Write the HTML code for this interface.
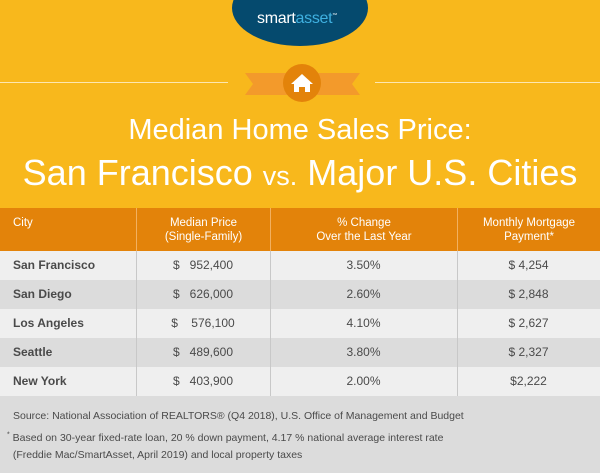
<!DOCTYPE html>
<html><head><style>
body{margin:0;width:600px;height:473px;overflow:hidden;font-family:"Liberation Sans",sans-serif;background:#F8B81C;position:relative}
.a{position:absolute}
.row{position:absolute;left:0;width:600px;height:29px;font-size:12px;color:#4a4a4a;line-height:29px}
.row div{position:absolute;top:0;height:29px}
.c1{left:13px;font-weight:bold}
.c2{left:136px;width:134px;text-align:center}
.c3{left:270px;width:187px;text-align:center}
.c4{left:457px;width:143px;text-align:center}
.hd{position:absolute;top:208px;height:43px;background:#E3830A;color:#fff;font-size:11.5px;line-height:14px;text-align:center;padding-top:8px;box-sizing:border-box}
.v{position:absolute;top:251px;width:1px;height:145px;background:#c8c8c8}
</style></head><body>
<div class="a" style="left:232px;top:-30px;width:136px;height:76px;border-radius:50%;background:#054A6E"></div>
<div class="a" style="left:257px;top:10px;font-size:16px;color:#fff;letter-spacing:-0.3px">smart<span style="color:#3fb0e0">asset</span><sup style="font-size:5px">™</sup></div>
<div class="a" style="left:0;top:82px;width:228px;height:1px;background:#fde7b0"></div>
<div class="a" style="left:375px;top:82px;width:225px;height:1px;background:#fde7b0"></div>
<svg class="a" style="left:240px;top:62px" width="125" height="45">
<polygon points="5,11 120,11 112,22 120,33 5,33 13,22" fill="#F39A2B"/>
<circle cx="62" cy="21" r="19" fill="#E3830A"/>
<polygon points="62,12 51,22 54,22 54,30 70,30 70,22 73,22" fill="#fff"/>
<rect x="59" y="25" width="6" height="5" fill="#E3830A"/>
</svg>
<div class="a" style="left:0;width:600px;top:114px;text-align:center;color:#fff;font-size:29px">Median Home Sales Price:</div>
<div class="a" style="left:0;width:600px;top:152px;text-align:center;color:#fff;font-size:36px">San Francisco <span style="font-size:27px">vs.</span> Major U.S. Cities</div>

<div class="hd" style="left:0;width:136px;text-align:left;padding-left:13px">City</div>
<div class="hd" style="left:136px;width:134px;border-left:1px solid #f2b060">Median Price<br>(Single-Family)</div>
<div class="hd" style="left:270px;width:187px;border-left:1px solid #f2b060">% Change<br>Over the Last Year</div>
<div class="hd" style="left:457px;width:143px;border-left:1px solid #f2b060">Monthly Mortgage<br>Payment*</div>

<div class="row" style="top:251px;background:#EFEFEF"><div class="c1">San Francisco</div><div class="c2">$ &nbsp;&nbsp;952,400</div><div class="c3">3.50%</div><div class="c4">$ 4,254</div></div>
<div class="row" style="top:280px;background:#DCDCDC"><div class="c1">San Diego</div><div class="c2">$ &nbsp;&nbsp;626,000</div><div class="c3">2.60%</div><div class="c4">$ 2,848</div></div>
<div class="row" style="top:309px;background:#EFEFEF"><div class="c1">Los Angeles</div><div class="c2">$ &nbsp;&nbsp;&nbsp;576,100</div><div class="c3">4.10%</div><div class="c4">$ 2,627</div></div>
<div class="row" style="top:338px;background:#DCDCDC"><div class="c1">Seattle</div><div class="c2">$ &nbsp;&nbsp;489,600</div><div class="c3">3.80%</div><div class="c4">$ 2,327</div></div>
<div class="row" style="top:367px;background:#EFEFEF"><div class="c1">New York</div><div class="c2">$ &nbsp;&nbsp;403,900</div><div class="c3">2.00%</div><div class="c4">$2,222</div></div>
<div class="v" style="left:136px"></div><div class="v" style="left:270px"></div><div class="v" style="left:457px"></div>

<div class="a" style="left:0;top:396px;width:600px;height:77px;background:#DCDCDC"></div>
<div class="a" style="left:13px;top:408px;font-size:10.5px;color:#4a4a4a;line-height:17px">Source: National Association of REALTORS® (Q4 2018), U.S. Office of Management and Budget</div>
<div class="a" style="left:7px;top:430px;font-size:10.5px;color:#4a4a4a;line-height:17px"><sup style="font-size:7px;line-height:0">*</sup> Based on 30-year fixed-rate loan, 20 % down payment, 4.17 % national average interest rate<br>&nbsp;&nbsp;(Freddie Mac/SmartAsset, April 2019) and local property taxes</div>
</body></html>
